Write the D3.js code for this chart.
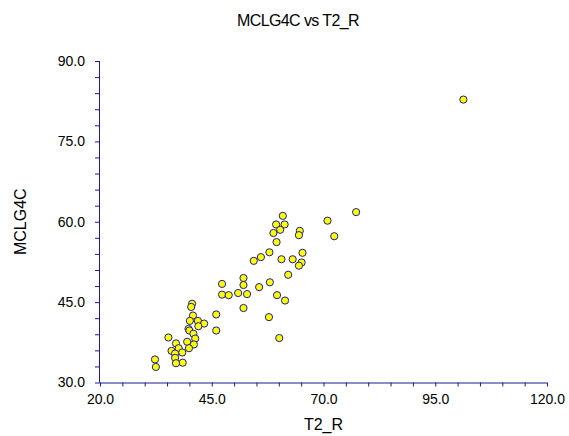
<!DOCTYPE html>
<html>
<head>
<meta charset="utf-8">
<script src="https://cdn.jsdelivr.net/npm/d3@7"></script>
<style>
  body { margin: 0; background: #fff; }
  svg { display: block; font-family: Arial, "Liberation Sans", sans-serif; }
</style>
</head>
<body>
<svg id="chart"></svg>
<script>
    // T2_R values (x)
    const t2r = [
        101.3, 77.3, 70.9, 72.4, 64.7, 64.5, 65.3, 63.1, 65.1, 64.5,
        60.9, 59.4, 61.3, 60.3, 58.8, 59.5, 57.9, 56.0, 54.4, 60.6,
        62.1, 58.0, 55.6, 52.1, 52.1, 47.3, 47.3, 48.8, 50.9, 52.9,
        59.6, 61.4, 52.1, 46.0, 57.8, 60.1, 40.6, 40.4, 40.8, 40.1,
        41.9, 43.3, 42.0, 39.8, 40.0, 40.9, 46.0, 35.3, 41.3, 39.5,
        41.0, 39.9, 37.0, 37.6, 36.0, 38.4, 36.8, 36.8, 38.5, 37.0,
        32.3, 32.5
    ];
    // MCLG4C values (y)
    const mclg4c = [
        82.8, 61.8, 60.2, 57.3, 58.3, 57.5, 54.2, 53.0, 52.4, 51.8,
        61.1, 59.5, 59.5, 58.5, 57.9, 56.2, 54.3, 53.4, 52.7, 53.0,
        50.1, 48.7, 47.8, 49.5, 48.2, 48.4, 46.4, 46.3, 46.7, 46.5,
        46.3, 45.3, 43.9, 42.7, 42.2, 38.3, 44.7, 44.1, 42.5, 41.5,
        41.5, 41.0, 40.5, 40.0, 39.7, 39.1, 39.7, 38.4, 38.2, 37.6,
        37.1, 36.4, 37.3, 36.4, 35.9, 35.6, 35.4, 34.6, 33.7, 33.6,
        34.3, 32.9
    ];
    const xTickLabels = [20, 45, 70, 95, 120];
    const yTickLabels = [30, 45, 60, 75, 90];

    const width = 569, height = 436;
    const axisColor = "#1c1c8c";

    const svg = d3.select("#chart")
        .attr("width", width)
        .attr("height", height);

    const xScale = d3.scaleLinear().domain([20, 120]).range([100, 547]);
    const yScale = d3.scaleLinear().domain([30, 90]).range([382.5, 61]);

    // x axis: minor ticks every 5, labels every 25
    const xAxis = d3.axisBottom(xScale)
        .tickValues(d3.range(20, 120.1, 5))
        .tickSize(4)
        .tickFormat(d => xTickLabels.includes(d) ? d.toFixed(1) : "");

    const gx = svg.append("g")
        .attr("transform", `translate(0,${yScale(30)})`)
        .call(xAxis);

    // y axis: minor ticks every 3, labels every 15
    const yAxis = d3.axisLeft(yScale)
        .tickValues(d3.range(30, 90.1, 3))
        .tickSize(5)
        .tickFormat(d => yTickLabels.includes(d) ? d.toFixed(1) : "");

    const gy = svg.append("g")
        .attr("transform", `translate(${xScale(20)},0)`)
        .call(yAxis);

    [gx, gy].forEach(g => {
        g.select(".domain").attr("stroke", axisColor).attr("stroke-width", 1);
        g.selectAll(".tick line").attr("stroke", axisColor);
        g.selectAll(".tick text")
            .attr("fill", "#000")
            .attr("font-size", "14px")
            .attr("font-family", "Arial, 'Liberation Sans', sans-serif");
    });
    gx.select(".domain").attr("d", `M${xScale(20)},0.5H${xScale(120)}`);
    gy.select(".domain").attr("d", `M-0.5,${yScale(90)}V${yScale(30)}`);
    gx.selectAll(".tick text").attr("dy", "1.0em");
    gy.selectAll(".tick text").attr("x", -15);

    // points
    svg.append("g")
        .selectAll("circle")
        .data(t2r.map((x, i) => ({ x: x, y: mclg4c[i] })))
        .join("circle")
        .attr("cx", d => xScale(d.x))
        .attr("cy", d => yScale(d.y))
        .attr("r", 3.6)
        .attr("fill", "#ffff00")
        .attr("stroke", axisColor)
        .attr("stroke-width", 1);

    // title and axis labels
    svg.append("text")
        .attr("x", 298)
        .attr("y", 26)
        .attr("text-anchor", "middle")
        .attr("font-size", "16px")
        .attr("letter-spacing", "-0.6px")
        .text("MCLG4C vs T2_R");

    svg.append("text")
        .attr("x", xScale(70))
        .attr("y", 430)
        .attr("text-anchor", "middle")
        .attr("font-size", "16px")
        .text("T2_R");

    svg.append("text")
        .attr("transform", `translate(26,${yScale(60)}) rotate(-90)`)
        .attr("text-anchor", "middle")
        .attr("font-size", "16px")
        .text("MCLG4C");
</script>
</body>
</html>
